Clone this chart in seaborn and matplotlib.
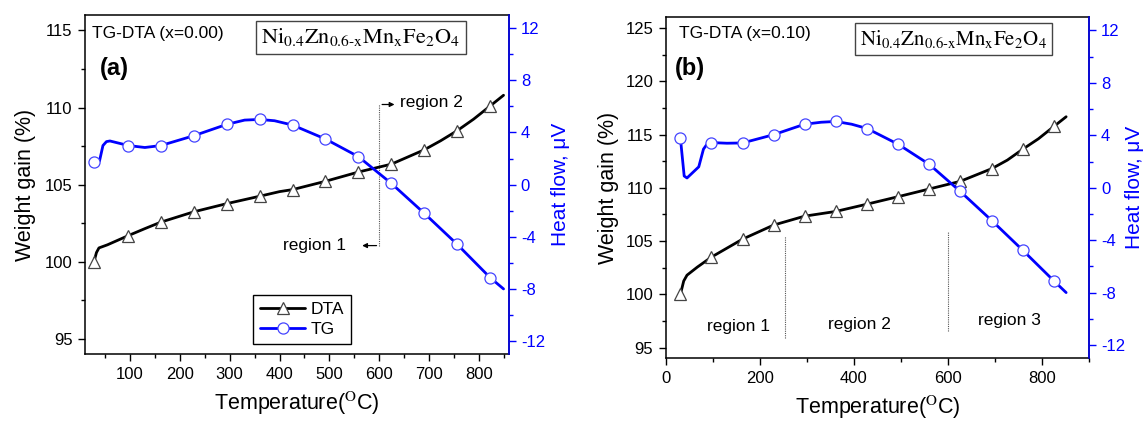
import numpy as np
import pandas as pd
import matplotlib
matplotlib.use("Agg")
import matplotlib.pyplot as plt
import seaborn as sns
from matplotlib.ticker import MultipleLocator

# 曲线数据
# (a) x = 0.00
temp_a_dta = [28, 33, 38, 55, 97, 130, 162, 228, 294, 360, 400, 426, 492, 558, 624, 690, 723, 756, 789, 822, 849]
dta_a = [100.0, 100.6, 100.9, 101.1, 101.7, 102.15, 102.57, 103.24, 103.77, 104.25, 104.55, 104.68,
         105.22, 105.82, 106.33, 107.26, 107.85, 108.5, 109.25, 110.1, 110.8]
mk_a_dta = [0, 4, 6, 7, 8, 9, 11, 12, 13, 14, 15, 17, 19]

temp_a_tg = [28, 39, 46, 53, 60, 97, 130, 162, 228, 294, 330, 360, 390, 426, 492, 558, 624, 690, 756, 822, 849]
tg_a = [1.74, 1.8, 3.0, 3.3, 3.35, 3.0, 2.85, 3.0, 3.75, 4.62, 4.95, 5.0, 4.9, 4.57, 3.5, 2.15, 0.1,
        -2.19, -4.57, -7.12, -7.99]
mk_a_tg = [0, 5, 7, 8, 9, 11, 13, 14, 15, 16, 17, 18, 19]

# (b) x = 0.10
temp_b_dta = [31, 38, 45, 67, 97, 163, 229, 295, 361, 428, 494, 560, 626, 693, 726, 759, 792, 825, 851]
dta_b = [100.0, 101.25, 101.8, 102.56, 103.5, 105.18, 106.5, 107.34, 107.78, 108.47, 109.17, 109.89,
         110.61, 111.8, 112.6, 113.63, 114.6, 115.76, 116.67]
mk_b_dta = [0, 4, 5, 6, 7, 8, 9, 10, 11, 12, 13, 15, 17]

temp_b_tg = [31, 39, 45, 70, 80, 87, 97, 130, 163, 229, 295, 330, 361, 395, 428, 494, 560, 626, 693, 759, 825, 851]
tg_b = [3.78, 0.9, 0.75, 1.6, 2.95, 3.3, 3.45, 3.4, 3.42, 4.05, 4.85, 5.0, 5.06, 4.85, 4.52, 3.32, 1.79,
        -0.28, -2.5, -4.77, -7.1, -7.99]
mk_b_tg = [0, 6, 8, 9, 10, 12, 14, 15, 16, 17, 18, 19, 20]

sns.set_style("ticks")
plt.rcParams["font.family"] = ["Liberation Sans", "DejaVu Sans"]
plt.rcParams["mathtext.fontset"] = "stix"
plt.rcParams["axes.unicode_minus"] = False
for k in ["text.color", "axes.labelcolor", "xtick.color", "ytick.color", "axes.edgecolor"]:
    plt.rcParams[k] = "black"

BLUE = "#0000ff"
formula = r"$\mathrm{Ni_{0.4}Zn_{0.6\text{-}x}Mn_{x}Fe_{2}O_{4}}$"


def style_axes(ax, ax2, xmajor, xminor, xlim, ylim, yticks, ylpad, rlpad):
    ax.set_xlim(*xlim)
    ax.set_ylim(*ylim)
    ax.xaxis.set_major_locator(MultipleLocator(xmajor))
    ax.xaxis.set_minor_locator(MultipleLocator(xminor))
    ax.set_yticks(yticks)
    ax.yaxis.set_minor_locator(MultipleLocator(2.5))
    ax.tick_params(which="major", length=5, width=1, labelsize=12, direction="out", pad=4)
    ax.tick_params(which="minor", length=3, width=1, direction="out")
    for s in ax.spines.values():
        s.set_linewidth(1.1)

    ax2.set_ylim(-13, 13)
    ax2.set_yticks([-12, -8, -4, 0, 4, 8, 12])
    ax2.yaxis.set_minor_locator(MultipleLocator(2))
    ax2.tick_params(axis="y", which="major", length=5, width=1, labelsize=12, colors=BLUE, pad=3.5)
    ax2.tick_params(axis="y", which="minor", length=3, width=1, colors=BLUE)
    ax2.spines["right"].set_color(BLUE)
    ax2.spines["right"].set_linewidth(1.1)
    for side in ["left", "top", "bottom"]:
        ax2.spines[side].set_visible(False)

    ax.set_xlabel(r"Temperature($^{\mathrm{O}}$C)", fontsize=15.5, labelpad=6)
    ax.set_ylabel("Weight gain (%)", fontsize=15.5, labelpad=ylpad)
    ax2.set_ylabel("Heat flow, \u03bcV", fontsize=15, color=BLUE, labelpad=rlpad)


def draw_curves(ax, ax2, tx, dta, mk_d, tt, tg, mk_t):
    d = pd.DataFrame({"T": tx, "v": dta})
    t = pd.DataFrame({"T": tt, "v": tg})
    sns.lineplot(data=d, x="T", y="v", ax=ax, color="black", linewidth=2.0, marker="^",
                 markevery=mk_d, markersize=9, markerfacecolor="white",
                 markeredgecolor="#444444", markeredgewidth=0.9, legend=False, zorder=3)
    sns.lineplot(data=t, x="T", y="v", ax=ax2, color=BLUE, linewidth=2.0, marker="o",
                 markevery=mk_t, markersize=8, markerfacecolor="white",
                 markeredgecolor="#4444ff", markeredgewidth=0.9, legend=False, zorder=3)
    return ax.get_lines()[-1], ax2.get_lines()[-1]


fig = plt.figure(figsize=(11.47, 4.23), dpi=100)

# ---------------- (a) ----------------
ax_a = fig.add_axes([0.0741, 0.1624, 0.3697, 0.802])
ax_a2 = ax_a.twinx()
l_dta, l_tg = draw_curves(ax_a, ax_a2, temp_a_dta, dta_a, mk_a_dta, temp_a_tg, tg_a, mk_a_tg)
style_axes(ax_a, ax_a2, 100, 50, (10, 860), (94, 116), [95, 100, 105, 110, 115], 6, 4)

ax_a.text(0.016, 0.946, "TG-DTA (x=0.00)", transform=ax_a.transAxes, fontsize=12.5, va="center")
ax_a.text(0.034, 0.843, "(a)", transform=ax_a.transAxes, fontsize=17, fontweight="bold", va="center")
ax_a.text(0.65, 0.935, formula, transform=ax_a.transAxes, fontsize=16, ha="center", va="center",
          bbox=dict(boxstyle="square,pad=0.25", fc="white", ec="#444444", lw=1))

ax_a.plot([600, 600], [101.05, 110.2], ls=(0, (1, 1)), color="#555555", lw=0.8)
ax_a.annotate("", xy=(636, 110.2), xytext=(600, 110.2),
              arrowprops=dict(arrowstyle="-|>", color="black", lw=0.9, mutation_scale=7))
ax_a.annotate("", xy=(560, 101.05), xytext=(600, 101.05),
              arrowprops=dict(arrowstyle="-|>", color="black", lw=0.9, mutation_scale=7))
ax_a.text(642, 110.3, "region 2", fontsize=12.5, va="center", ha="left")
ax_a.text(533, 101.05, "region 1", fontsize=12.5, va="center", ha="right")

leg = ax_a2.legend([l_dta, l_tg], ["DTA", "TG"], loc="lower left", bbox_to_anchor=(0.397, 0.03),
                   fontsize=12.5, frameon=True, fancybox=False, edgecolor="black", framealpha=1,
                   handlelength=2.6, borderpad=0.4, labelspacing=0.3, handletextpad=0.3,
                   borderaxespad=0)
leg.get_frame().set_linewidth(1)

# ---------------- (b) ----------------
ax_b = fig.add_axes([0.5805, 0.153, 0.3691, 0.806])
ax_b2 = ax_b.twinx()
draw_curves(ax_b, ax_b2, temp_b_dta, dta_b, mk_b_dta, temp_b_tg, tg_b, mk_b_tg)
style_axes(ax_b, ax_b2, 200, 100, (0, 900), (94, 126), [95, 100, 105, 110, 115, 120, 125], 5, 0)

ax_b.text(0.032, 0.953, "TG-DTA (x=0.10)", transform=ax_b.transAxes, fontsize=12.5, va="center")
ax_b.text(0.022, 0.85, "(b)", transform=ax_b.transAxes, fontsize=17, fontweight="bold", va="center")
ax_b.text(0.68, 0.937, formula, transform=ax_b.transAxes, fontsize=15, ha="center", va="center",
          bbox=dict(boxstyle="square,pad=0.25", fc="white", ec="#444444", lw=1))

ax_b.plot([253, 253], [95.9, 105.45], ls=(0, (1, 1)), color="#555555", lw=0.8)
ax_b.plot([600, 600], [96.55, 105.95], ls=(0, (1, 1)), color="#555555", lw=0.8)
ax_b.text(155, 96.95, "region 1", fontsize=12.5, ha="center", va="center")
ax_b.text(411, 97.15, "region 2", fontsize=12.5, ha="center", va="center")
ax_b.text(731, 97.55, "region 3", fontsize=12.5, ha="center", va="center")

fig.savefig("out.png", dpi=100)
